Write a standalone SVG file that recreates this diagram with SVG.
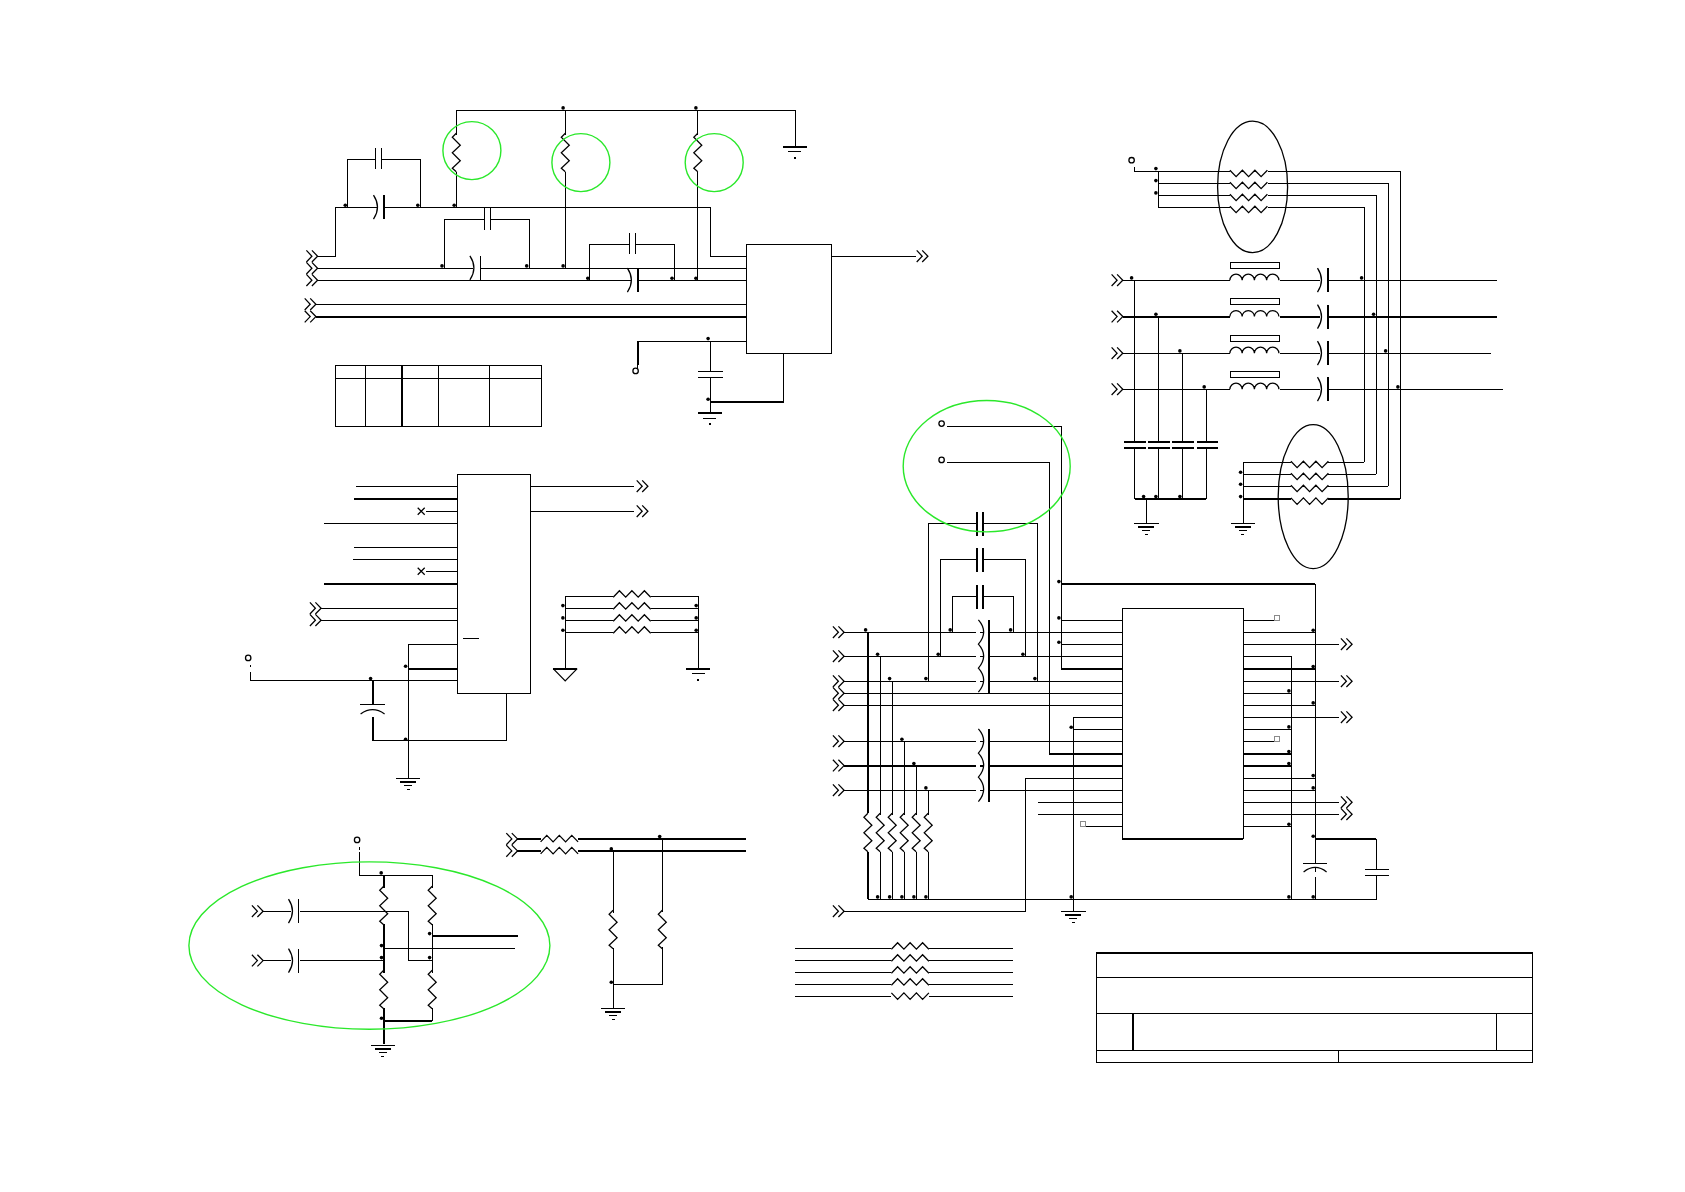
<svg xmlns="http://www.w3.org/2000/svg" xmlns:xlink="http://www.w3.org/1999/xlink" width="1685" height="1192" viewBox="0 0 1685 1192">
<style>
.w,.t,.box,.g,.e,.sq,.z{fill:none;stroke:#000;stroke-width:1}
.w,.t,.box{shape-rendering:crispEdges}
.t{stroke-width:2}
.z{stroke-width:1.25}
.g{stroke:#2be82b;stroke-width:1.4}
.e{stroke-width:1.3}
.sq{stroke:#8a8a8a;stroke-width:1.2;fill:#fff;shape-rendering:crispEdges}
.o{fill:#fff;stroke:#000;stroke-width:1.3}
.d{fill:#000}
</style>
<defs>
<path id="ch" class="z" d="M0,-5.8L5.5,0L0,5.8M5.5,-5.8L11.2,0L5.5,5.8"/>
<path id="rv" class="z" d="M0,-1.7L-4,2.3L4,10.3L-4,17.8L4,25.8L-4,33.3L0,36.8"/>
<path id="rh" class="z" d="M0,-1L6.2,5.5L12.5,-1L18.7,5.5L25,-1L31.2,5.5L37.5,-1"/>
<path id="ru" class="z" d="M0,1L6.2,-5.5L12.5,1L18.7,-5.5L25,1L31.2,-5.5L37.5,1"/>
<path id="ind" class="z" d="M0,0a6.1,6 0 0 1 12.25,0a6.1,6 0 0 1 12.25,0a6.1,6 0 0 1 12.25,0a6.1,6 0 0 1 12.25,0"/>
<g id="pT"><path class="z" d="M-10.4,-12Q-2.4,0 -10.4,12"/><path class="t" d="M0,-12V12"/></g>
<g id="pN"><path class="z" d="M-10.4,-12Q-2.4,0 -10.4,12"/><path class="w" d="M0,-12V12"/></g>
<g id="gA"><path class="t" d="M-12,0H12"/><path class="w" d="M-6.5,5.3H6.5"/><path class="t" d="M-1,11H1"/></g>
<g id="gB"><path class="w" d="M-12.3,0H12.3"/><path class="t" d="M-8,4H8"/><path class="w" d="M-4,7.5H4M-1.5,11H1.5"/></g>
<g id="x"><path class="z" d="M-3.5,-3.5L3.5,3.5M-3.5,3.5L3.5,-3.5"/></g>
</defs>
<g transform="translate(-.1 -.1)">
<g id="connectors">
<path class="w" d="M456.4 110.3H795.4V146.7M456.4 110.3V135M456.4 172V207.3M565.4 110.3V135M565.4 172V268.3M697.9 110.3V135M697.9 172V280.3"/>
<path class="w" d="M317.5 256.3H335.7V207.3H377M384.5 207.3H710.4V256.3H746.8M347.5 207.3V159.3H375.7M381.8 159.3H420.4V207.3"/>
<path class="w" d="M317.5 268.3H473M481 268.3H746.8M317.5 280.3H631M638.5 280.3H746.8M444.3 268.3V219.3H484.6M490.4 219.3H529.3V268.3M589.3 280.3V244.3H629.6M635.7 244.3H674.6V280.3M315.7 304.3H746.8M831.8 256.3H915.6M637.9 341.3H746.8M637.9 365V373M710.4 341.3V371.7M710.4 377.3V413.3M783.6 353.3V402"/>
<path class="t" d="M315.7 316.7H746.8M637.9 341.3V365M710.4 402H783.6"/>

<path class="w" d="M356 486.3H457.3M425.7 511.3H457.3M324 523.3H457.3M354 547.3H457.3M353 559.3H457.3M425.7 571.3H457.3M321 608.3H457.3M321 620.3H457.3M408.3 778.3V644.3H457.3M250.7 664.7V667.3M250.7 671.7V681H457.3M372.7 741H506.3V693.3M530.7 486.3H634.3M530.7 511.3H634.3"/>
<path class="t" d="M354 498.7H457.3M324 583.7H457.3M408.3 668.7H457.3M372.7 681V705M372.7 716.7V741"/>
<path class="w" d="M565.3 668.7V596.3H613.3M650.7 596.3H698.7V668.7M565.3 608.3H613.3M650.7 608.3H698.7M565.3 620.3H613.3M650.7 620.3H698.7M565.3 632.3H613.3M650.7 632.3H698.7"/>

<path class="w" d="M359.8 846.7V850M359.8 852.3V875.3H432.3V888M432.3 924V973M432.3 1008.3V1020.7M263.2 911.3H291M300 911.3H408.3V960.7H432.3M263.2 960.7H291M300 960.7H383.8M383.8 948.3H515.5"/>
<path class="t" d="M383.8 875.3V888M383.8 924V973M383.8 1008.3V1044M383.8 1020.7H432.3M432.3 936H517.8"/>
<path class="t" d="M517.4 839H540.7M577.7 839H746M517.4 851H540.7M577.7 851H746"/>
<path class="w" d="M613.2 851V913M613.2 948V1008.3M662.4 839V912M662.4 947V984.3H613.2"/>

<path class="w" d="M1134.7 166.7V171.3H1230M1267.7 171.3H1400.3V499M1158.3 171.3V207.3M1158.3 183.3H1230M1267.7 183.3H1388.3V486.3M1158.3 195.3H1230M1267.7 195.3H1376.3V474.3M1158.3 207.3H1230M1267.7 207.3H1364.3V462.3"/>
<path class="w" d="M1122.7 280.3H1230M1280 280.3H1320M1329 280.3H1496.7M1122.7 353.3H1230M1280 353.3H1320M1329 353.3H1490.7M1122.7 389.3H1230M1280 389.3H1320M1329 389.3H1502.7"/>
<path class="t" d="M1122.7 316.7H1230M1280 316.7H1320M1329 316.7H1496.7"/>
<path class="w" d="M1134.7 280.3V442M1134.7 447.7V499M1158.3 316.7V442M1158.3 447.7V499M1182.3 353.3V442M1182.3 447.7V499M1206.3 389.3V442M1206.3 447.7V499M1146.3 499V523.3M1243.3 523.3V462.3H1291M1328.3 462.3H1364.3M1243.3 474.3H1291M1328.3 474.3H1376.3M1243.3 486.3H1291M1328.3 486.3H1388.3"/>
<path class="t" d="M1134.7 499H1206.3M1243.3 499H1291M1328.3 499H1400.3"/>

<path class="w" d="M947.3 426.3H1061.3V668.7M947.3 462.3H1049.3V753.7"/>
<path class="t" d="M1061.3 668.7H1122.3M1049.3 753.7H1122.3M1061.3 583.7H1315.3"/>
<path class="w" d="M1315.3 583.7V863.3M1315.3 868V872M1315.3 876.7V899.3"/>
<path class="w" d="M928.3 681.3V523.3H976.7M983 523.3H1037.3V681.3M940.3 656.3V559.3H976.7M983 559.3H1025.3V656.3M952.3 632.3V596.3H976.7M983 596.3H1013.3V632.3"/>
<path class="w" d="M844 632.3H976M980 632.3H984M990 632.3H1122.3M844 656.3H976M980 656.3H984M990 656.3H1122.3M844 681.3H976M980 681.3H984M990 681.3H1122.3M844 693.3H1122.3M844 705.3H1122.3M1061.3 620.3H1122.3M1061.3 644.3H1122.3M1073.3 911.3V717.3H1122.3M1073.3 729.3H1122.3"/>
<path class="w" d="M844 741.3H976M980 741.3H984M990 741.3H1122.3M844 790.3H976M980 790.3H984M990 790.3H1122.3M844 911.3H1025.3V778.3H1122.3M1038 802.3H1122.3M1038 814.3H1122.3M1085.7 826.3H1122.3"/>
<path class="t" d="M844 765.7H976M980 765.7H984M990 765.7H1122.3M868 632.3V813.3M868 852.3V899.3"/>
<path class="w" d="M880.3 656.3V815M880.3 852.3V899.3M892.3 681.3V815M892.3 852.3V899.3M904.3 741.3V815M904.3 852.3V899.3M916.3 765.7V815M916.3 852.3V899.3M928.3 790.3V815M928.3 852.3V899.3M868 899.3H1376.3V875.3M1376.3 869.3V839"/>
<path class="w" d="M1243.3 620.3H1274.3M1243.3 632.3H1315.3M1243.3 644.3H1338.7M1243.3 656.3H1291.3V899.3M1243.3 681.3H1338.7M1243.3 693.3H1291.3M1243.3 705.3H1315.3M1243.3 717.3H1338.7M1243.3 729.3H1291.3M1243.3 741.3H1274.3M1243.3 778.3H1315.3M1243.3 790.3H1315.3M1243.3 802.3H1338.7M1243.3 814.3H1338.7M1243.3 826.3H1291.3"/>
<path class="t" d="M1243.3 668.7H1315.3M1243.3 753.7H1291.3M1243.3 765.7H1291.3M1315.3 839H1376.3"/>

<path class="w" d="M795 948.3H891.5M929.3 948.3H1012.7M795 960.3H891.5M929.3 960.3H1012.7M795 972.3H891.5M929.3 972.3H1012.7M795 984.3H891.5M929.3 984.3H1012.7M795 996.3H891.5M929.3 996.3H1012.7"/>
</g>

<g id="junctions" class="d">
<circle cx="563.2" cy="108" r="1.8"/><circle cx="696" cy="108" r="1.8"/><circle cx="345.4" cy="205.3" r="1.8"/><circle cx="417.9" cy="205.3" r="1.8"/><circle cx="454.3" cy="205.3" r="1.8"/><circle cx="442.1" cy="266" r="1.8"/><circle cx="526.8" cy="266" r="1.8"/><circle cx="563.2" cy="266" r="1.8"/><circle cx="587.9" cy="278.3" r="1.8"/><circle cx="672.1" cy="278.3" r="1.8"/><circle cx="696" cy="278.3" r="1.8"/><circle cx="708.2" cy="338.7" r="1.8"/><circle cx="708.2" cy="399.3" r="1.8"/>
<circle cx="405.7" cy="666.3" r="1.8"/><circle cx="405.7" cy="739.3" r="1.8"/><circle cx="370.7" cy="678.7" r="1.8"/><circle cx="563" cy="605.7" r="1.8"/><circle cx="563" cy="618" r="1.8"/><circle cx="563" cy="630.3" r="1.8"/><circle cx="696.3" cy="605.7" r="1.8"/><circle cx="696.3" cy="618" r="1.8"/><circle cx="696.3" cy="630.3" r="1.8"/>
<circle cx="381.3" cy="873" r="1.8"/><circle cx="381.6" cy="945.7" r="1.8"/><circle cx="381.6" cy="957.7" r="1.8"/><circle cx="381.6" cy="1018.3" r="1.8"/><circle cx="429.7" cy="933.7" r="1.8"/><circle cx="429.7" cy="957.7" r="1.8"/><circle cx="611.4" cy="982.3" r="1.8"/><circle cx="611.4" cy="849" r="1.8"/><circle cx="659.8" cy="836.7" r="1.8"/>
<circle cx="1156" cy="168.7" r="1.8"/><circle cx="1156" cy="180.7" r="1.8"/><circle cx="1156" cy="193" r="1.8"/><circle cx="1131.7" cy="278" r="1.8"/><circle cx="1156" cy="314.3" r="1.8"/><circle cx="1180" cy="351" r="1.8"/><circle cx="1204.3" cy="387" r="1.8"/><circle cx="1361.7" cy="278" r="1.8"/><circle cx="1373.7" cy="314.3" r="1.8"/><circle cx="1385.7" cy="351" r="1.8"/><circle cx="1398" cy="387" r="1.8"/><circle cx="1143.7" cy="496.7" r="1.8"/><circle cx="1156" cy="496.7" r="1.8"/><circle cx="1180" cy="496.7" r="1.8"/><circle cx="1240.7" cy="472.3" r="1.8"/><circle cx="1240.7" cy="484.3" r="1.8"/><circle cx="1240.7" cy="496.7" r="1.8"/>
<circle cx="865.7" cy="630" r="1.8"/><circle cx="877.7" cy="654.3" r="1.8"/><circle cx="889.7" cy="678.7" r="1.8"/><circle cx="950.3" cy="630" r="1.8"/><circle cx="1010.7" cy="630" r="1.8"/><circle cx="938.3" cy="654.3" r="1.8"/><circle cx="1023" cy="654.3" r="1.8"/><circle cx="926" cy="678.7" r="1.8"/><circle cx="1035" cy="678.7" r="1.8"/><circle cx="1059" cy="581.7" r="1.8"/><circle cx="1059" cy="618" r="1.8"/><circle cx="1059" cy="642.3" r="1.8"/><circle cx="1071.3" cy="727.3" r="1.8"/><circle cx="902" cy="739.3" r="1.8"/><circle cx="914" cy="763.7" r="1.8"/><circle cx="926" cy="788" r="1.8"/><circle cx="877.7" cy="897" r="1.8"/><circle cx="889.7" cy="897" r="1.8"/><circle cx="902" cy="897" r="1.8"/><circle cx="914" cy="897" r="1.8"/><circle cx="926" cy="897" r="1.8"/><circle cx="1071.3" cy="897" r="1.8"/>
<circle cx="1313.3" cy="630.3" r="1.8"/><circle cx="1313.3" cy="666.7" r="1.8"/><circle cx="1289" cy="691" r="1.8"/><circle cx="1313.3" cy="703" r="1.8"/><circle cx="1289" cy="727" r="1.8"/><circle cx="1289" cy="751.7" r="1.8"/><circle cx="1289" cy="763.7" r="1.8"/><circle cx="1313.3" cy="775.7" r="1.8"/><circle cx="1313.3" cy="788" r="1.8"/><circle cx="1289" cy="824.3" r="1.8"/><circle cx="1313.3" cy="836.3" r="1.8"/><circle cx="1289" cy="897" r="1.8"/><circle cx="1313.3" cy="897" r="1.8"/>
</g>

<g id="ports">
<use href="#ch" x="306.5" y="256.3"/><use href="#ch" x="306.5" y="268.3"/><use href="#ch" x="306.5" y="280.3"/><use href="#ch" x="304.8" y="304.3"/><use href="#ch" x="304.8" y="316.7"/><use href="#ch" x="916.8" y="256.3"/>
<use href="#ch" x="310" y="608.3"/><use href="#ch" x="310" y="620.3"/><use href="#ch" x="636.8" y="486.3"/><use href="#ch" x="636.8" y="511.3"/>
<use href="#ch" x="252" y="911.3"/><use href="#ch" x="252" y="960.7"/><use href="#ch" x="506.4" y="839"/><use href="#ch" x="506.4" y="851"/>
<use href="#ch" x="1111.7" y="280.3"/><use href="#ch" x="1111.7" y="316.7"/><use href="#ch" x="1111.7" y="353.3"/><use href="#ch" x="1111.7" y="389.3"/>
<use href="#ch" x="833" y="632.3"/><use href="#ch" x="833" y="656.3"/><use href="#ch" x="833" y="681.3"/><use href="#ch" x="833" y="693.3"/><use href="#ch" x="833" y="705.3"/><use href="#ch" x="833" y="741.3"/><use href="#ch" x="833" y="765.7"/><use href="#ch" x="833" y="790.3"/><use href="#ch" x="833" y="911.3"/>
<use href="#ch" x="1341" y="644.3"/><use href="#ch" x="1341" y="681.3"/><use href="#ch" x="1341" y="717.3"/><use href="#ch" x="1341" y="802.3"/><use href="#ch" x="1341" y="814.3"/>
<circle class="o" cx="635.7" cy="371" r="2.7"/><circle class="o" cx="248.3" cy="658" r="2.7"/><circle class="o" cx="357.2" cy="840" r="2.7"/><circle class="o" cx="1131.7" cy="160.3" r="2.7"/><circle class="o" cx="941.7" cy="423.7" r="2.7"/><circle class="o" cx="941.7" cy="460" r="2.7"/>
<use href="#x" x="421.3" y="511.3"/><use href="#x" x="421.3" y="571.3"/>
<rect class="sq" x="1274.3" y="615.3" width="5.4" height="5"/><rect class="sq" x="1274.3" y="736.8" width="5.4" height="5"/><rect class="sq" x="1080.3" y="821.3" width="5.4" height="5"/>
</g>

<g id="ic-u1"><rect class="box" x="746.8" y="244.3" width="85" height="109"/></g>
<g id="ic-u2"><rect class="box" x="457.3" y="474.3" width="73.4" height="219"/><path class="w" d="M463 638.3H479"/></g>
<g id="ic-u3"><path class="box" d="M1122.3 839V608.3H1243.3V839"/><path class="t" d="M1122.3 839H1243.3"/></g>

<g id="table"><rect class="box" x="335.4" y="365.3" width="206.4" height="61"/><path class="w" d="M335.4 378.3H541.8M365.4 365.3V426.3M438.2 365.3V426.3M489.3 365.3V426.3"/><path class="t" d="M401.8 365.3V426.3"/></g>

<g id="title-block"><rect class="box" x="1096.5" y="953" width="435.8" height="109.3"/><path class="t" d="M1096.5 953H1532.3M1132.9 1013.3V1050.3"/><path class="w" d="M1096.5 977.3H1532.3M1096.5 1013.3H1532.3M1096.5 1050.3H1532.3M1496.4 1013.3V1050.3M1338.4 1050.3V1062.3"/></g>

<g id="resistors">
<use href="#rv" x="456.4" y="135"/><use href="#rv" x="565.4" y="135"/><use href="#rv" x="697.9" y="135"/>
<use href="#ru" x="613.3" y="596.3"/><use href="#ru" x="613.3" y="608.3"/><use href="#ru" x="613.3" y="620.3"/><use href="#ru" x="613.3" y="632.3"/>
<use href="#rv" x="383.8" y="888"/><use href="#rv" x="432.3" y="888"/><use href="#rv" x="383.8" y="972"/><use href="#rv" x="432.3" y="972"/><use href="#rv" x="613.2" y="912"/><use href="#rv" x="662.4" y="912"/>
<use href="#ru" x="540.7" y="841"/><use href="#ru" x="540.7" y="853"/>
<use href="#rh" x="1230" y="171.3"/><use href="#rh" x="1230" y="183.3"/><use href="#rh" x="1230" y="195.3"/><use href="#rh" x="1230" y="207.3"/>
<use href="#rh" x="1291" y="462.3"/><use href="#rh" x="1291" y="474.3"/><use href="#rh" x="1291" y="486.3"/><use href="#rh" x="1291" y="499"/>
<use href="#rv" x="868" y="815"/><use href="#rv" x="880.3" y="815"/><use href="#rv" x="892.3" y="815"/><use href="#rv" x="904.3" y="815"/><use href="#rv" x="916.3" y="815"/><use href="#rv" x="928.3" y="815"/>
<use href="#ru" x="891.5" y="948.3"/><use href="#ru" x="891.5" y="960.3"/><use href="#ru" x="891.5" y="972.3"/><use href="#ru" x="891.5" y="984.3"/><use href="#rh" x="891.5" y="994"/>
</g>

<g id="capacitors">
<path class="w" d="M375.7 148.3V169M381.8 148.3V169M484.6 207.3V230M490.4 207.3V230M629.6 233.3V254M635.7 233.3V254M698.6 371.7H722.9M698.6 377.3H722.9"/>
<use href="#pT" x="384" y="207.3"/><use href="#pN" x="480.4" y="268"/><use href="#pT" x="637.9" y="280.3"/>
<path class="w" d="M360 705H385"/><path class="z" d="M360.7 714Q372.7 705.5 384.7 714"/>
<use href="#pN" x="299" y="911.3"/><use href="#pN" x="299" y="960.7"/>
<use href="#pT" x="1328" y="280.3"/><use href="#pT" x="1328" y="316.7"/><use href="#pT" x="1328" y="353.3"/><use href="#pT" x="1328" y="389.3"/>
<path class="t" d="M1124 442H1146M1124 447.7H1146M1148 442H1170M1148 447.7H1170M1172 442H1194M1172 447.7H1194M1196.7 442H1218M1196.7 447.7H1218"/>
<path class="t" d="M976.7 512V536M983 512V536M976.7 548V572M983 548V572M976.7 585V609M983 585V609M989 620V693.3M989 729V801.7"/>
<path class="z" d="M978.5 620Q989 632 978.5 644.3Q989 656 978.5 668.3Q989 680 978.5 692.3M978.5 729Q989 741 978.5 753.3Q989 765 978.5 777.3Q989 789 978.5 801.7"/>
<path class="w" d="M1303 863.3H1327M1365 869.3H1388.7M1365 875.3H1388.7"/><path class="z" d="M1303.7 872Q1315.3 863 1326.7 872"/>
</g>

<g id="inductors">
<use href="#ind" x="1230" y="280.3"/><use href="#ind" x="1230" y="316.7"/><use href="#ind" x="1230" y="353.3"/><use href="#ind" x="1230" y="389.3"/>
<rect class="box" x="1230.3" y="262.3" width="49.4" height="6"/><rect class="box" x="1230.3" y="298.7" width="49.4" height="6"/><rect class="box" x="1230.3" y="335.3" width="49.4" height="6"/><rect class="box" x="1230.3" y="371.3" width="49.4" height="6"/>
</g>

<g id="grounds">
<use href="#gA" x="795" y="146.7"/><use href="#gA" x="710" y="413.5"/><use href="#gB" x="408.3" y="778.3"/><use href="#gA" x="698.5" y="668.7"/>
<path class="t" d="M553.3 668.7H577.3"/><path class="z" d="M553.3 668.7L565.3 681L577.3 668.7"/>
<use href="#gB" x="383" y="1045.3"/><use href="#gB" x="613.2" y="1008.3"/><use href="#gB" x="1146.3" y="523.3"/><use href="#gB" x="1243" y="523.3"/><use href="#gB" x="1073.3" y="911.3"/>
</g>

<g id="highlights">
<circle class="g" cx="472" cy="150.7" r="29"/><circle class="g" cx="581" cy="162.7" r="29"/><circle class="g" cx="714.3" cy="162.7" r="29"/>
<ellipse class="g" cx="369.5" cy="945.7" rx="180.5" ry="83.7"/>
<ellipse class="g" cx="986.8" cy="466.3" rx="83.5" ry="65.7"/>
<ellipse class="e" cx="1252.7" cy="187" rx="35" ry="65.7"/>
<ellipse class="e" cx="1313.3" cy="496.7" rx="35" ry="72"/>
</g>
</g>
</svg>
